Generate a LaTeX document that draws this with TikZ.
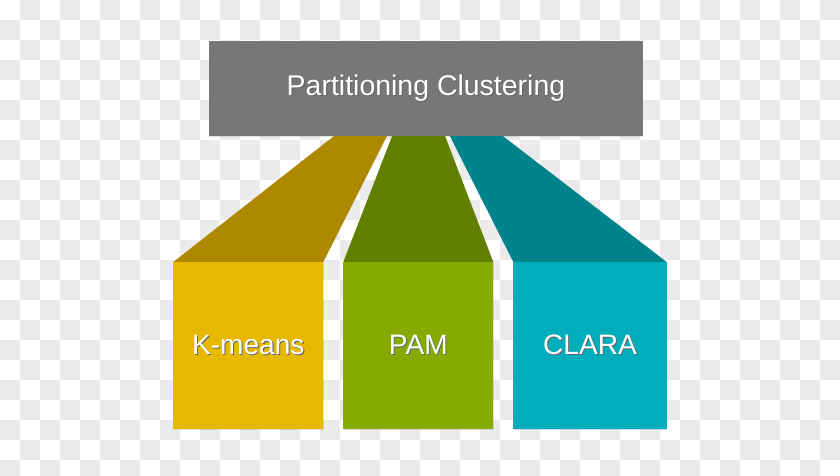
\documentclass[tikz,border=0pt]{standalone}
\usepackage{fontspec}
\setmainfont{Liberation Sans}
\usetikzlibrary{shapes,positioning,calc,shadows}
\definecolor{headgray}{HTML}{777777}
\definecolor{kmfront}{HTML}{E6B900}
\definecolor{kmtop}{HTML}{AE8900}
\definecolor{pamfront}{HTML}{86AA00}
\definecolor{pamtop}{HTML}{627F00}
\definecolor{clafront}{HTML}{00ADBA}
\definecolor{clatop}{HTML}{00838A}
\definecolor{checker}{HTML}{EBEBEB}
\newcommand{\softlabel}[1]{\rlap{\kern0.9pt\raisebox{-0.9pt}{\textcolor{black!60}{#1}}}#1}
\tikzstyle{head} = [rectangle, fill=headgray, text=white, inner sep=0pt, outer sep=0pt,
    minimum width=13.02cm, minimum height=2.85cm, font=\fontsize{24.3}{29}\selectfont,
    drop shadow={opacity=0.25, shadow xshift=0.4pt, shadow yshift=-0.8pt}]
\tikzstyle{algo} = [rectangle, text=white, inner sep=0pt, outer sep=0pt,
    minimum width=4.5cm, minimum height=5.01cm, font=\fontsize{24}{29}\selectfont,
    drop shadow={opacity=0.25, shadow xshift=0.4pt, shadow yshift=-0.8pt}]

\begin{document}
\begin{tikzpicture}[x=0.03cm, y=-0.03cm]

    % Background
    \useasboundingbox (0,0) rectangle (840,475);
    \begin{scope}
    \clip (0,0) rectangle (840,475);
    \fill[white] (0,0) rectangle (840,475);
    \foreach \i in {0,2,...,40}
      \foreach \j in {0,2,...,22}{
        \fill[checker] (20*\i+20,20*\j) rectangle ++(20,20);
        \fill[checker] (20*\i,20*\j+20) rectangle ++(20,20);
      }
    \end{scope}

    % Place nodes
    \node [head] (title) at (426,88.5) {\softlabel{Partitioning Clustering}};
    \node [algo, fill=kmfront] (kmeans) at (248.3,345.5) {\softlabel{K-means}};
    \node [algo, fill=pamfront, right=0.6cm of kmeans] (pam) {\softlabel{PAM}};
    \node [algo, fill=clafront, right=0.6cm of pam, minimum width=4.6cm] (clara) {\softlabel{CLARA}};

    % Draw edges
    \fill [kmtop] (kmeans.north west) -- (kmeans.north east)
        -- ($(title.south west)!0.410!(title.south east)$)
        -- ($(title.south west)!0.288!(title.south east)$) -- cycle;
    \fill [pamtop] (pam.north west) -- (pam.north east)
        -- ($(title.south west)!0.544!(title.south east)$)
        -- ($(title.south west)!0.422!(title.south east)$) -- cycle;
    \fill [clatop] (clara.north west) -- (clara.north east)
        -- ($(title.south west)!0.677!(title.south east)$)
        -- ($(title.south west)!0.555!(title.south east)$) -- cycle;

\end{tikzpicture}
\end{document}
